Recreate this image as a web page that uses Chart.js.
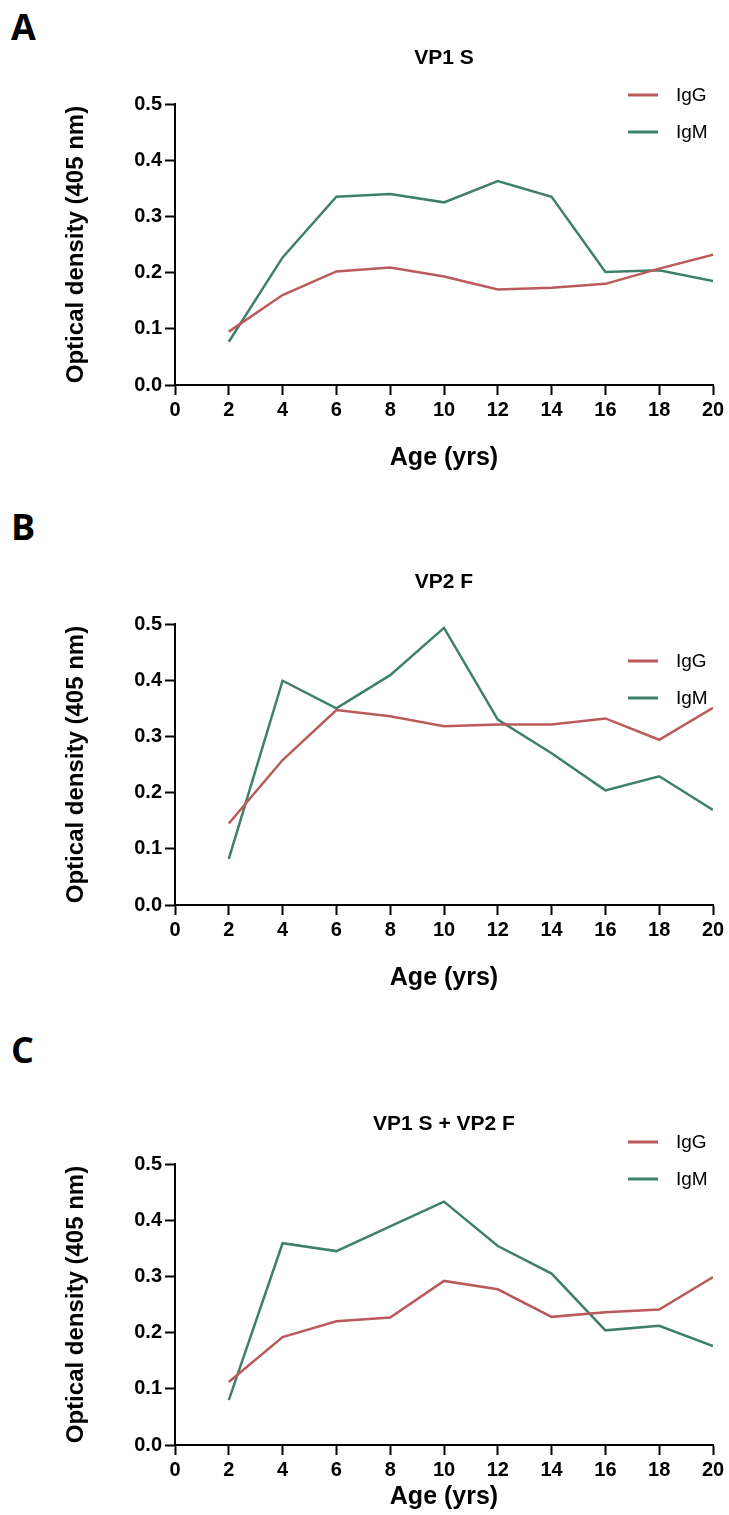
<!DOCTYPE html>
<html>
<head>
<meta charset="utf-8">
<title>Antibody response by age</title>
<script src="https://cdn.jsdelivr.net/npm/chart.js@4.4.1/dist/chart.umd.min.js"></script>
<style>
  body { margin: 0; background: #fff; }
  #figure { position: relative; width: 729px; height: 1515px; overflow: hidden; }
  .panel { position: absolute; left: 0; }
  .letter { position: absolute; left: 11px; font: bold 36px "Open Sans", "Liberation Sans", sans-serif; color: #000; line-height: 1; }
</style>
</head>
<body>
<div id="figure"></div>
<script>
// ages on the x axis (years)
var ages = [2, 4, 6, 8, 10, 12, 14, 16, 18, 20];

// mean OD at 405 nm per age group
var vp1sIgG = [0.095, 0.160, 0.202, 0.209, 0.193, 0.170, 0.173, 0.180, 0.207, 0.232];
var vp1sIgM = [0.077, 0.227, 0.335, 0.340, 0.325, 0.363, 0.335, 0.201, 0.204, 0.185];

var vp2fIgG = [0.145, 0.258, 0.347, 0.336, 0.318, 0.321, 0.321, 0.332, 0.294, 0.351];
var vp2fIgM = [0.082, 0.399, 0.350, 0.409, 0.493, 0.330, 0.270, 0.204, 0.229, 0.169];

var bothIgG = [0.112, 0.192, 0.220, 0.227, 0.292, 0.277, 0.228, 0.236, 0.241, 0.299];
var bothIgM = [0.080, 0.359, 0.345, 0.389, 0.433, 0.354, 0.305, 0.204, 0.212, 0.176];

var seriesNames = ['IgG', 'IgM'];
var seriesColors = ['#bb5a5a', '#3e8069'];

var panelLetters = ['A', 'B', 'C'];
var panelTitles = ['VP1 S', 'VP2 F', 'VP1 S + VP2 F'];
var panelData = [[vp1sIgG, vp1sIgM], [vp2fIgG, vp2fIgM], [bothIgG, bothIgM]];

var xTitle = 'Age (yrs)';
var yTitle = 'Optical density (405 nm)';

// page layout of each panel (absolute page pixels)
var layouts = [
  { top: 0,    height: 490, letterY: 9,    titleY: 58,   plotTop: 104,  plotBottom: 385,  ageY: 458,  legendY: 95 },
  { top: 490,  height: 520, letterY: 509,  titleY: 582,  plotTop: 624,  plotBottom: 905,  ageY: 978,  legendY: 661 },
  { top: 1010, height: 505, letterY: 1032, titleY: 1124, plotTop: 1164, plotBottom: 1445, ageY: 1497, legendY: 1142 }
];

var W = 729;
var PLOT_LEFT = 175;
var PLOT_RIGHT = 713;

var sans = '"Liberation Sans", Arial, sans-serif';

// panel title over the plot area, and a stacked line legend top right
var panelDecor = {
  id: 'panelDecor',
  afterDraw: function(chart, args, opts) {
    var ctx = chart.ctx;
    var area = chart.chartArea;
    ctx.save();

    ctx.fillStyle = '#000';
    ctx.font = 'bold 21px ' + sans;
    ctx.textAlign = 'center';
    ctx.textBaseline = 'middle';
    ctx.fillText(opts.title, (area.left + area.right) / 2, opts.titleY);

    ctx.font = '19px ' + sans;
    ctx.textAlign = 'left';
    chart.data.datasets.forEach(function(ds, i) {
      var y = opts.legendY + i * opts.gap;
      ctx.strokeStyle = ds.borderColor;
      ctx.lineWidth = 3;
      ctx.beginPath();
      ctx.moveTo(opts.legendX, y);
      ctx.lineTo(opts.legendX + 30, y);
      ctx.stroke();
      ctx.fillStyle = '#000';
      ctx.fillText(ds.label, opts.legendX + 48, y + 1);
    });
    ctx.restore();
  }
};

function drawPanel(idx) {
  var L = layouts[idx];
  var fig = document.getElementById('figure');

  var letter = document.createElement('div');
  letter.className = 'letter';
  letter.style.top = L.letterY + 'px';
  letter.textContent = panelLetters[idx];
  fig.appendChild(letter);

  var canvas = document.createElement('canvas');
  canvas.className = 'panel';
  canvas.width = W;
  canvas.height = L.height;
  canvas.style.top = L.top + 'px';
  fig.appendChild(canvas);

  var xHeight = L.top + L.height - L.plotBottom;
  var ageSize = 25, ageLH = ageSize * 1.2;
  var agePad = L.top + L.height - L.ageY - ageLH / 2;
  var ySize = 24, yLH = ySize * 1.2;

  var datasets = seriesNames.map(function(name, i) {
    return {
      label: name,
      data: ages.map(function(a, j) { return { x: a, y: panelData[idx][i][j] }; }),
      borderColor: seriesColors[i],
      backgroundColor: seriesColors[i],
      borderWidth: 2.5,
      pointRadius: 0,
      tension: 0,
      fill: false
    };
  });

  new Chart(canvas.getContext('2d'), {
    type: 'line',
    data: { datasets: datasets },
    plugins: [panelDecor],
    options: {
      responsive: false,
      animation: false,
      layout: { padding: { left: 0, right: W - PLOT_RIGHT, top: L.plotTop - L.top, bottom: 0 } },
      plugins: {
        legend: { display: false },
        tooltip: { enabled: false },
        title: { display: false },
        panelDecor: {
          title: panelTitles[idx],
          titleY: L.titleY - L.top,
          legendX: 628,
          legendY: L.legendY - L.top,
          gap: 37
        }
      },
      scales: {
        x: {
          type: 'linear',
          min: 0,
          max: 20,
          afterFit: function(scale) { scale.height = xHeight; },
          ticks: {
            stepSize: 2,
            autoSkip: false,
            maxRotation: 0,
            padding: 3,
            color: '#000',
            font: { family: sans, size: 20, weight: 'bold' }
          },
          grid: { drawOnChartArea: false, drawTicks: true, tickLength: 10, tickWidth: 2, tickColor: '#000' },
          border: { display: true, color: '#000', width: 2 },
          title: {
            display: true,
            text: xTitle,
            color: '#000',
            font: { family: sans, size: ageSize, weight: 'bold', lineHeight: 1.2 },
            padding: { top: 0, bottom: agePad }
          }
        },
        y: {
          min: 0,
          max: 0.5,
          afterFit: function(scale) { scale.width = PLOT_LEFT; },
          ticks: {
            stepSize: 0.1,
            padding: 3,
            color: '#000',
            font: { family: sans, size: 20, weight: 'bold' },
            callback: function(v) { return v.toFixed(1); }
          },
          grid: { drawOnChartArea: false, drawTicks: true, tickLength: 10, tickWidth: 2, tickColor: '#000' },
          border: { display: true, color: '#000', width: 2 },
          title: {
            display: true,
            text: yTitle,
            color: '#000',
            font: { family: sans, size: ySize, weight: 'bold', lineHeight: 1.2 },
            padding: { top: 76 - yLH / 2, bottom: 0 }
          }
        }
      }
    }
  });
}

for (var p = 0; p < layouts.length; p++) {
  drawPanel(p);
}
</script>
</body>
</html>
